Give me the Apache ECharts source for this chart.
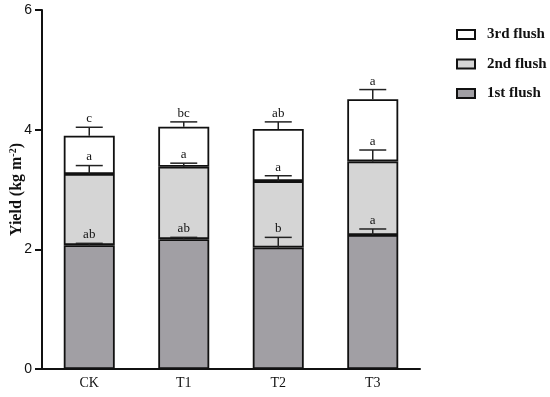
<!DOCTYPE html>
<html><head><meta charset="utf-8">
<script src="https://cdn.jsdelivr.net/npm/echarts@6/dist/echarts.min.js"></script>
<style>html,body{margin:0;padding:0;background:#fff}#c{width:550px;height:397px}</style>
</head><body><div id="c"></div>
<script>
const categories = ['CK', 'T1', 'T2', 'T3'];
const flush1 = [2.07, 2.17, 2.03, 2.24];
const flush2 = [1.19, 1.21, 1.11, 1.23];
const flush3 = [0.64, 0.67, 0.87, 1.04];
const err1 = [0.03, 0.03, 0.17, 0.10];
const err2 = [0.14, 0.06, 0.09, 0.19];
const err3 = [0.14, 0.08, 0.12, 0.16];
const letters1 = ['ab', 'ab', 'b', 'a'];
const letters2 = ['a', 'a', 'a', 'a'];
const letters3 = ['c', 'bc', 'ab', 'a'];
const yTicks = [0, 2, 4, 6];

const chart = echarts.init(document.getElementById('c'), null, {renderer: 'canvas'});
const serif = '"Liberation Serif", "Times New Roman", serif';

const errData = [];
categories.forEach((c, i) => {
  const t1 = flush1[i], t2 = t1 + flush2[i], t3 = t2 + flush3[i];
  errData.push([i, t1, err1[i], letters1[i]]);
  errData.push([i, t2, err2[i], letters2[i]]);
  errData.push([i, t3, err3[i], letters3[i]]);
});

function renderErr(params, api) {
  const i = api.value(0), top = api.value(1), e = api.value(2);
  const lab = errData[params.dataIndex][3];
  const p0 = api.coord([i, top]);
  const p1 = api.coord([i, top + e]);
  const hw = 13.5;
  return {
    type: 'group',
    children: [
      {type: 'line', shape: {x1: p0[0], y1: p0[1], x2: p1[0], y2: p1[1]}, style: {stroke: '#222', lineWidth: 1.5}},
      {type: 'line', shape: {x1: p1[0] - hw, y1: p1[1], x2: p1[0] + hw, y2: p1[1]}, style: {stroke: '#222', lineWidth: 1.5}},
      {type: 'text', x: p1[0], y: p1[1] - 2, style: {text: lab, fill: '#111', font: '13px ' + serif, align: 'center', verticalAlign: 'bottom'}}
    ]
  };
}

const barBase = {type: 'bar', stack: 'y', barWidth: 51, itemStyle: {borderColor: '#111', borderWidth: 1.8}};

chart.setOption({
  animation: false,
  backgroundColor: '#fff',
  grid: {left: 42, right: 130, top: 10, bottom: 28, containLabel: false, outerBoundsMode: 'none'},
  legend: {
    data: ['3rd flush', '2nd flush', '1st flush'],
    orient: 'vertical', left: 456, top: 27, padding: 0, itemWidth: 18, itemHeight: 9, itemGap: 14.5,
    icon: 'rect',
    textStyle: {fontFamily: serif, fontWeight: 'bold', fontSize: 15, color: '#111', padding: [0, 0, 0, 7]}
  },
  xAxis: {
    type: 'category', data: categories,
    axisLine: {lineStyle: {color: '#111', width: 2}},
    axisTick: {alignWithLabel: true, length: 5, lineStyle: {width: 2, color: '#111'}},
    axisLabel: {fontFamily: serif, fontSize: 14, color: '#111', margin: 7}
  },
  yAxis: {
    type: 'value', min: 0, max: 6, interval: 2,
    name: 'Yield (kg m{sup|-2})', nameLocation: 'middle', nameGap: 17, nameRotate: 90,
    nameMoveOverlap: false,
    nameTextStyle: {fontFamily: serif, fontWeight: 'bold', fontSize: 16, color: '#111',
      rich: {sup: {fontFamily: serif, fontWeight: 'bold', fontSize: 10, verticalAlign: 'top', padding: [0, 0, 7, 0], color: '#111'}}},
    axisLine: {show: true, lineStyle: {color: '#111', width: 2}},
    axisTick: {show: true, length: 7, lineStyle: {width: 2, color: '#111'}},
    axisLabel: {fontFamily: '"Liberation Sans", Arial, sans-serif', fontSize: 14, color: '#111', margin: 10,
      formatter: v => yTicks.includes(v) ? String(v) : ''},
    splitLine: {show: false}
  },
  series: [
    Object.assign({}, barBase, {name: '1st flush', data: flush1, itemStyle: Object.assign({}, barBase.itemStyle, {color: '#a19fa4'})}),
    Object.assign({}, barBase, {name: '2nd flush', data: flush2, itemStyle: Object.assign({}, barBase.itemStyle, {color: '#d5d5d5'})}),
    Object.assign({}, barBase, {name: '3rd flush', data: flush3, itemStyle: Object.assign({}, barBase.itemStyle, {color: '#ffffff'})}),
    {type: 'custom', name: 'err', renderItem: renderErr, data: errData.map(d => [d[0], d[1], d[2]]),
      encode: {x: 0, y: 1}, z: 10, clip: false}
  ]
});
</script></body></html>
